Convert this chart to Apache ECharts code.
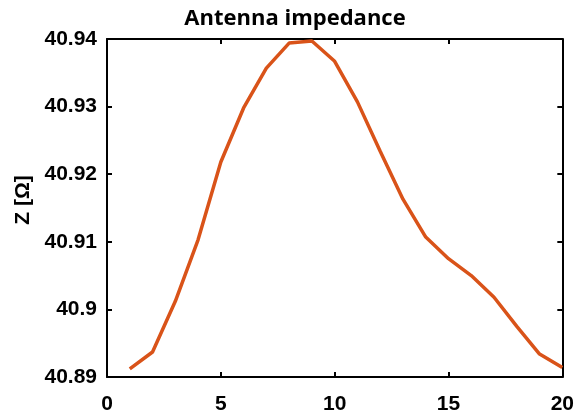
<!DOCTYPE html>
<html><head><meta charset="utf-8">
<script src="https://cdn.jsdelivr.net/npm/echarts@6/dist/echarts.min.js"></script>
<style>html,body{margin:0;padding:0;background:#fff}#c{width:577px;height:420px}</style>
</head><body><div id="c"></div>
<script>
const xValues = [1,2,3,4,5,6,7,8,9,10,11,12,13,14,15,16,17,18,19,20];
const zValues = [40.8912,40.8937,40.9012,40.9103,40.9218,40.9298,40.9357,40.9394,40.9397,40.9367,40.9307,40.9234,40.9163,40.9107,40.9075,40.9050,40.9018,40.8975,40.8934,40.8914];
const titleText = "Antenna impedance";
const yName = "Z [Ω]";

const chart = echarts.init(document.getElementById('c'), null, {renderer:'canvas'});
const fmtY = v => parseFloat(v.toFixed(2)).toString();
const font = '"Liberation Sans", Arial, sans-serif';
const axisCommon = {
  axisLine:{show:true, onZero:false, lineStyle:{color:'#000', width:2}},
  axisTick:{show:true, inside:true, length:5, lineStyle:{color:'#000', width:2}},
  splitLine:{show:false}
};
chart.setOption({
  animation:false,
  title:{text:titleText, left:290, top:3, textAlign:'center',
    textStyle:{fontFamily:'"Open Sans", sans-serif', fontWeight:'bold', fontSize:22, color:'#000'}},
  grid:{left:107, right:14, top:39, bottom:43, containLabel:false},
  xAxis:[
    Object.assign({type:'value', min:0, max:20, interval:5, position:'bottom',
      axisLabel:{color:'#000', fontWeight:'bold', fontSize:21, fontFamily:font, margin:17}}, axisCommon),
    Object.assign({type:'value', min:0, max:20, interval:5, position:'top',
      axisLabel:{show:false}}, axisCommon)
  ],
  yAxis:[
    Object.assign({type:'value', min:40.89, max:40.94, interval:0.01, position:'left',
      name:yName, nameLocation:'middle', nameGap:73, nameRotate:90,
      nameTextStyle:{color:'#000', fontWeight:'bold', fontSize:21, fontFamily:font, padding:[0,0,0,16]},
      axisLabel:{color:'#000', fontWeight:'bold', fontSize:21, fontFamily:font, margin:10, formatter:fmtY}}, axisCommon),
    Object.assign({type:'value', min:40.89, max:40.94, interval:0.01, position:'right',
      axisLabel:{show:false}}, axisCommon)
  ],
  series:[{
    type:'line', xAxisIndex:0, yAxisIndex:0,
    data: xValues.map((x,i)=>[x, zValues[i]]),
    showSymbol:false, symbol:'none',
    lineStyle:{color:'#D95319', width:3.5},
    itemStyle:{color:'#D95319'}
  }]
});
</script></body></html>
